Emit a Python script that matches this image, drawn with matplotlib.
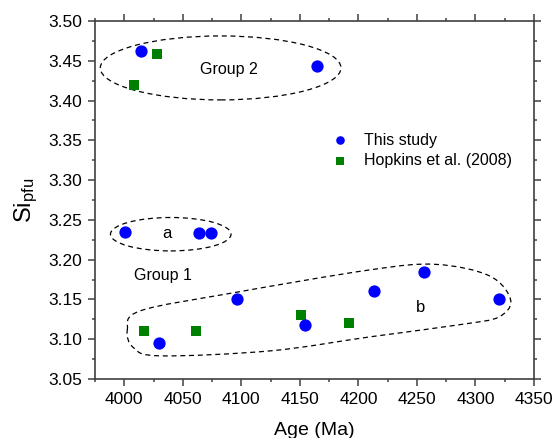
import numpy as np
import matplotlib.pyplot as plt
from matplotlib.patches import Ellipse, PathPatch
from matplotlib.path import Path
from matplotlib.ticker import MultipleLocator, FormatStrFormatter

plt.rcParams['font.family'] = ['Liberation Sans', 'DejaVu Sans']
plt.rcParams['mathtext.fontset'] = 'custom'
plt.rcParams['mathtext.rm'] = 'Liberation Sans'
plt.rcParams['mathtext.it'] = 'Liberation Sans:italic'

# This study (blue circles)
study_age = [4014, 4165, 4001, 4064, 4074, 4096, 4030, 4154, 4213, 4256, 4320]
study_si = [3.462, 3.444, 3.235, 3.233, 3.233, 3.151, 3.095, 3.118, 3.160, 3.184, 3.150]

# Hopkins et al. (2008) (green squares)
hop_age = [4028, 4008, 4017, 4061, 4151, 4192]
hop_si = [3.459, 3.419, 3.110, 3.110, 3.130, 3.120]

# outline of group b (closed curve through these points)
b_x = [4002.6, 4013.7, 4093, 4210, 4266, 4312, 4330, 4320, 4290, 4210, 4125, 4031, 4008]
b_y = [3.1118, 3.1357, 3.1583, 3.1872, 3.1941, 3.1796, 3.1495, 3.1280, 3.1190,
       3.1030, 3.0854, 3.0791, 3.0892]

dark = '#404040'

fig = plt.figure(figsize=(5.55, 4.38), dpi=100)
ax = fig.add_axes([0.1712, 0.1347, 0.7910, 0.8174])

ax.scatter(study_age, study_si, s=78, marker='o', color='#0000ff', linewidths=0,
           zorder=4, label='This study')
ax.scatter(hop_age, hop_si, s=56, marker='s', color='#008000', linewidths=0,
           zorder=3, label='Hopkins et al. (2008)')

dash = (0, (4, 3))
ax.add_patch(Ellipse((4082.3, 3.441), 205.6, 0.0804, fill=False, ec='black',
                     lw=0.9, ls=dash, zorder=2))
ax.add_patch(Ellipse((4039.7, 3.232), 103, 0.042, fill=False, ec='black',
                     lw=0.9, ls=dash, zorder=2))

# smooth closed curve (Catmull-Rom -> cubic Bezier)
P = np.column_stack([b_x, b_y])
n = len(P)
verts = [P[0]]
codes = [Path.MOVETO]
for i in range(n):
    p0, p1, p2, p3 = P[i - 1], P[i], P[(i + 1) % n], P[(i + 2) % n]
    verts += [p1 + (p2 - p0) / 6, p2 - (p3 - p1) / 6, p2]
    codes += [Path.CURVE4] * 3
ax.add_patch(PathPatch(Path(verts, codes), fill=False, ec='black', lw=0.9,
                       ls=dash, zorder=2))

ax.text(4089.6, 3.4384, 'Group 2', fontsize=11.5, ha='center', va='center')
ax.text(4036.7, 3.2324, 'a', fontsize=12, ha='center', va='center')
ax.text(4032.8, 3.1797, 'Group 1', fontsize=11.5, ha='center', va='center')
ax.text(4253.4, 3.1403, 'b', fontsize=12, ha='center', va='center')

ax.set_xlim(3975, 4350)
ax.set_ylim(3.05, 3.50)
ax.xaxis.set_major_locator(MultipleLocator(50))
ax.xaxis.set_minor_locator(MultipleLocator(25))
ax.yaxis.set_major_locator(MultipleLocator(0.05))
ax.yaxis.set_minor_locator(MultipleLocator(0.025))
ax.yaxis.set_major_formatter(FormatStrFormatter('%.2f'))

ax.tick_params(which='both', direction='out', top=True, right=True,
               color=dark, width=1.1, labelsize=12.5)
ax.tick_params(which='major', length=5, pad=4)
ax.tick_params(which='minor', length=2.5)
for sp in ax.spines.values():
    sp.set_color(dark)
    sp.set_linewidth(1.2)

ax.set_xlabel('Age (Ma)', fontsize=14, labelpad=11)
ax.set_ylabel(r'Si$_{\mathrm{pfu}}$', fontsize=17, labelpad=6)

ax.legend(loc='upper left', bbox_to_anchor=(0.5326, 0.688), frameon=False,
          fontsize=11.5, markerscale=0.7, scatterpoints=1, handlelength=1.4,
          handletextpad=0.8, labelspacing=0.35, borderpad=0, borderaxespad=0)

fig.savefig('out.png', dpi=100)
